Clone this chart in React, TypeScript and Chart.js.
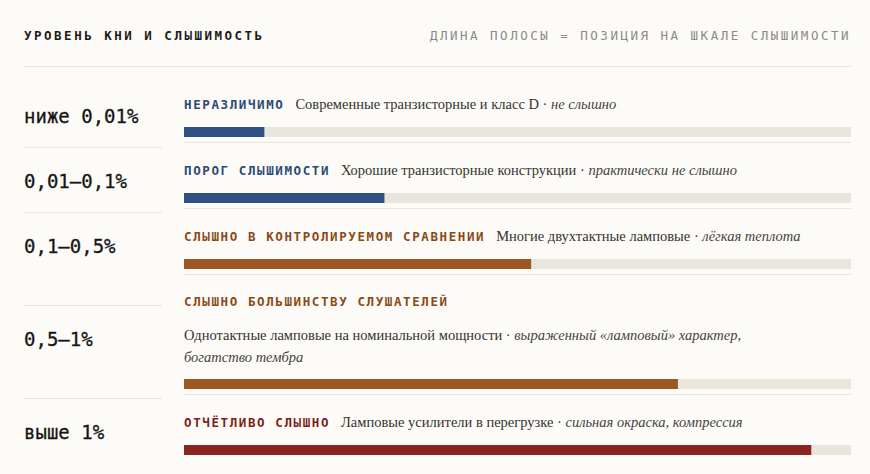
import React, { useEffect, useRef } from "react";
import { Chart, registerables } from "chart.js";

Chart.register(...registerables);

// ---- data ----
const RANGES = ["ниже 0,01%", "0,01–0,1%", "0,1–0,5%", "0,5–1%", "выше 1%"];
const LEVELS = [
  "НЕРАЗЛИЧИМО",
  "ПОРОГ СЛЫШИМОСТИ",
  "СЛЫШНО В КОНТРОЛИРУЕМОМ СРАВНЕНИИ",
  "СЛЫШНО БОЛЬШИНСТВУ СЛУШАТЕЛЕЙ",
  "ОТЧЁТЛИВО СЛЫШНО",
];
const EXAMPLES = [
  "Современные транзисторные и класс D",
  "Хорошие транзисторные конструкции",
  "Многие двухтактные ламповые",
  "Однотактные ламповые на номинальной мощности",
  "Ламповые усилители в перегрузке",
];
const VERDICTS = [
  "не слышно",
  "практически не слышно",
  "лёгкая теплота",
  "выраженный «ламповый» характер, богатство тембра",
  "сильная окраска, компрессия",
];
const POSITIONS = [12, 30, 52, 74, 94];
const SCALE_MAX = 100;
const TITLE = "УРОВЕНЬ КНИ И СЛЫШИМОСТЬ";
const SUBTITLE = "ДЛИНА ПОЛОСЫ = ПОЗИЦИЯ НА ШКАЛЕ СЛЫШИМОСТИ";

// ---- styles ----
const BG = "#fcfbf7";
const RULE = "#e8e5df";
const TRACK = "#e8e5dd";
const TITLE_COLORS = ["#2b4a75", "#2b4a75", "#8a4a17", "#8a4a17", "#7d1e1a"];
const BAR_COLORS = ["#2d5283", "#2d5283", "#9b5722", "#9b5722", "#8b2520"];
const LEFT_HEIGHTS = [65, 65, 93, 93, 65];
const MONO = '"DejaVu Sans Mono", "Liberation Mono", monospace';
const SERIF = '"Liberation Serif", "DejaVu Serif", serif';
const BAR_W = 667;
const BAR_H = 10;

function LevelBar({ value, color }: { value: number; color: string }) {
  const ref = useRef<HTMLCanvasElement>(null);
  useEffect(() => {
    if (!ref.current) return;
    const chart = new Chart(ref.current, {
      type: "bar",
      data: {
        labels: [""],
        datasets: [
          { data: [value], backgroundColor: color, order: 0 },
          { data: [SCALE_MAX], backgroundColor: TRACK, order: 1 },
        ],
      },
      options: {
        indexAxis: "y",
        animation: false,
        responsive: false,
        maintainAspectRatio: false,
        events: [],
        layout: { padding: 0 },
        plugins: { legend: { display: false }, tooltip: { enabled: false } },
        datasets: {
          bar: {
            barPercentage: 1,
            categoryPercentage: 1,
            borderWidth: 0,
            grouped: false,
          },
        },
        scales: {
          x: { min: 0, max: SCALE_MAX, display: false },
          y: { display: false },
        },
      } as any,
    });
    return () => chart.destroy();
  }, [value, color]);
  return (
    <canvas
      ref={ref}
      width={BAR_W}
      height={BAR_H}
      style={{ display: "block", width: BAR_W, height: BAR_H }}
    />
  );
}

export default function App() {
  return (
    <div
      style={{
        position: "fixed",
        left: 0,
        top: 0,
        width: 870,
        height: 474,
        background: BG,
        overflow: "hidden",
      }}
    >
      <div style={{ position: "absolute", left: 24, top: 0, width: 827 }}>
        {/* header */}
        <div
          style={{
            height: 67,
            borderBottom: `1px solid ${RULE}`,
            display: "flex",
            justifyContent: "space-between",
            alignItems: "flex-start",
            paddingTop: 28,
            boxSizing: "border-box",
          }}
        >
          <div
            style={{
              fontFamily: MONO,
              fontWeight: 700,
              fontSize: 12.5,
              letterSpacing: "2.5px",
              lineHeight: "16px",
              color: "#1a1a1a",
            }}
          >
            {TITLE}
          </div>
          <div
            style={{
              fontFamily: MONO,
              fontSize: 12.5,
              letterSpacing: "2.5px",
              lineHeight: "16px",
              color: "#8a8a88",
            }}
          >
            {SUBTITLE}
          </div>
        </div>

        <div style={{ display: "flex", alignItems: "flex-start" }}>
          {/* left column */}
          <div style={{ width: 138, marginTop: 16 }}>
            {RANGES.map((r, i) => (
              <div
                key={i}
                style={{
                  height: LEFT_HEIGHTS[i],
                  boxSizing: "border-box",
                  borderBottom: i < RANGES.length - 1 ? `1px solid ${RULE}` : "none",
                  paddingTop: 20,
                  fontFamily: MONO,
                  fontSize: 19,
                  lineHeight: "26px",
                  color: "#161616",
                  whiteSpace: "nowrap",
                  WebkitTextStroke: "0.3px #161616",
                }}
              >
                {r}
              </div>
            ))}
          </div>

          {/* right column */}
          <div style={{ width: BAR_W, marginLeft: 22, marginTop: 10 }}>
            {LEVELS.map((lvl, i) => (
              <div
                key={i}
                style={{
                  padding: "16px 0 5px",
                  borderBottom: i < LEVELS.length - 1 ? `1px solid ${RULE}` : "none",
                }}
              >
                <div
                  style={{
                    display: "flex",
                    flexWrap: "wrap",
                    alignItems: "baseline",
                    columnGap: 11,
                    rowGap: 11,
                  }}
                >
                  <div
                    style={{
                      fontFamily: MONO,
                      fontWeight: 700,
                      fontSize: 12.5,
                      letterSpacing: "1.6px",
                      lineHeight: "22px",
                      color: TITLE_COLORS[i],
                      whiteSpace: "nowrap",
                    }}
                  >
                    {lvl}
                  </div>
                  <div
                    style={{
                      fontFamily: SERIF,
                      fontSize: 14.5,
                      lineHeight: "22px",
                      color: "#35332f",
                      maxWidth: 590,
                    }}
                  >
                    <span>{EXAMPLES[i] + " · "}</span>
                    {VERDICTS[i].split(" ").map((w, k, arr) => (
                      <span key={k} style={{ fontStyle: "italic", color: "#45433f" }}>
                        {w + (k < arr.length - 1 ? " " : "")}
                      </span>
                    ))}
                  </div>
                </div>
                <div style={{ marginTop: 11 }}>
                  <LevelBar value={POSITIONS[i]} color={BAR_COLORS[i]} />
                </div>
              </div>
            ))}
          </div>
        </div>
      </div>
    </div>
  );
}
